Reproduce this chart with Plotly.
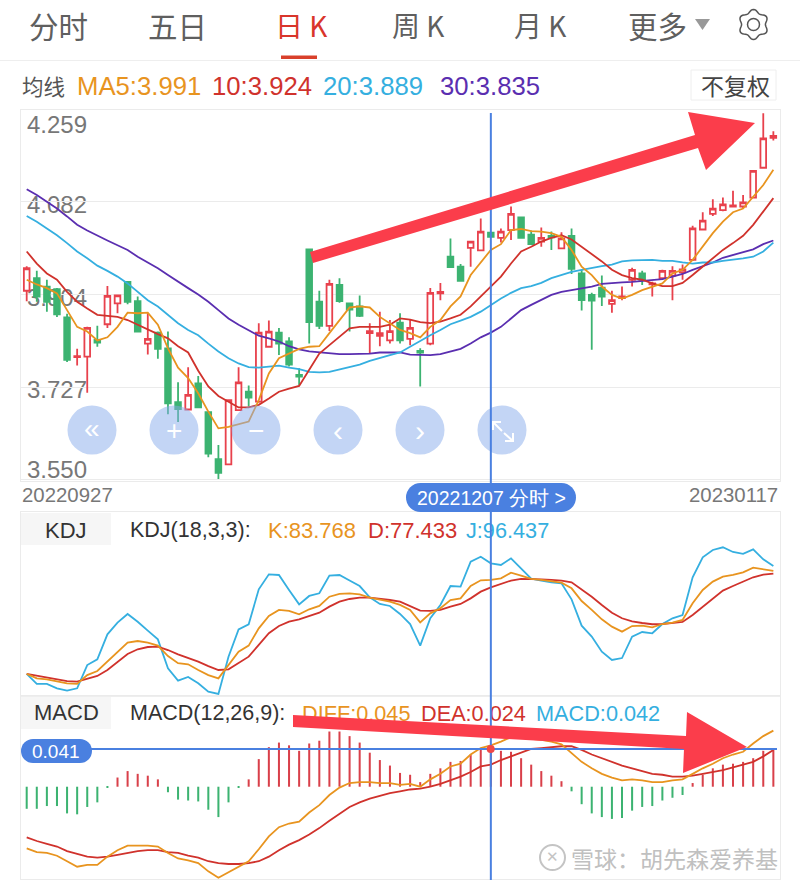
import math
import plotly.graph_objects as go

# ---------- data ----------
open_ = [3.911,3.935,3.919,3.914,3.860,3.784,3.785,3.817,3.847,3.887,3.928,3.891,3.810,3.831,3.801,3.698,3.684,3.734,3.679,3.589,3.579,3.683,3.718,3.699,3.804,3.831,3.814,3.750,3.990,3.890,3.844,3.922,3.887,3.881,3.830,3.825,3.816,3.850,3.819,3.796,3.810,3.906,3.976,3.957,3.993,3.988,4.022,4.012,4.027,4.051,4.018,4.005,4.016,3.992,4.016,3.944,3.903,3.917,3.886,3.897,3.932,3.944,3.923,3.935,3.940,3.946,3.970,4.028,4.058,4.065,4.072,4.072,4.089,4.146,4.203]
close = [3.954,3.900,3.890,3.866,3.779,3.786,3.840,3.812,3.901,3.902,3.890,3.833,3.819,3.800,3.696,3.685,3.712,3.688,3.600,3.563,3.702,3.736,3.707,3.831,3.833,3.810,3.770,3.747,3.851,3.844,3.924,3.891,3.875,3.863,3.834,3.830,3.834,3.816,3.840,3.793,3.907,3.909,3.956,3.930,4.005,4.024,4.014,4.024,4.058,4.012,4.000,4.012,4.013,4.011,3.953,3.893,3.892,3.900,3.893,3.900,3.951,3.932,3.925,3.949,3.949,3.952,4.030,4.045,4.068,4.076,4.074,4.080,4.140,4.202,4.207]
high = [3.958,3.949,3.932,3.916,3.867,3.800,3.842,3.844,3.920,3.903,3.928,3.900,3.868,3.833,3.833,3.736,3.765,3.748,3.679,3.616,3.702,3.765,3.730,3.849,3.854,3.840,3.822,3.763,3.990,3.911,3.932,3.935,3.887,3.902,3.849,3.871,3.855,3.868,3.855,3.801,3.916,3.926,4.011,3.962,4.006,4.049,4.022,4.030,4.072,4.051,4.026,4.032,4.024,4.023,4.030,3.951,3.907,3.940,3.911,3.919,3.955,3.949,3.928,3.951,3.958,3.961,4.035,4.061,4.086,4.089,4.102,4.094,4.140,4.250,4.216]
low = [3.891,3.890,3.871,3.861,3.775,3.768,3.716,3.804,3.840,3.868,3.885,3.833,3.789,3.781,3.675,3.660,3.683,3.688,3.593,3.551,3.578,3.681,3.690,3.697,3.803,3.788,3.766,3.730,3.810,3.838,3.834,3.888,3.833,3.861,3.791,3.805,3.810,3.810,3.807,3.728,3.807,3.893,3.956,3.930,3.957,3.987,4.014,4.003,4.008,4.012,4.000,3.995,3.989,3.992,3.943,3.873,3.798,3.882,3.869,3.893,3.919,3.922,3.900,3.933,3.893,3.932,3.968,4.026,4.054,4.063,4.070,4.068,4.088,4.145,4.198]

ma5 = [3.932,3.923,3.916,3.906,3.874,3.842,3.833,3.816,3.822,3.842,3.869,3.868,3.869,3.846,3.801,3.764,3.744,3.715,3.680,3.648,3.651,3.656,3.661,3.702,3.753,3.782,3.791,3.800,3.804,3.805,3.830,3.855,3.879,3.881,3.879,3.861,3.849,3.836,3.830,3.822,3.842,3.855,3.881,3.900,3.941,3.965,3.989,4.000,4.027,4.029,4.025,4.024,4.021,4.014,3.989,3.957,3.941,3.919,3.903,3.896,3.903,3.912,3.919,3.925,3.944,3.951,3.970,3.995,4.021,4.043,4.061,4.068,4.091,4.113,4.142]
ma10 = [3.986,3.963,3.944,3.932,3.909,3.890,3.877,3.865,3.863,3.861,3.855,3.846,3.836,3.828,3.820,3.805,3.793,3.758,3.728,3.710,3.699,3.688,3.688,3.693,3.705,3.718,3.724,3.729,3.760,3.791,3.807,3.823,3.839,3.842,3.842,3.842,3.846,3.858,3.856,3.851,3.849,3.852,3.858,3.865,3.881,3.900,3.919,3.938,3.963,3.986,3.995,4.005,4.012,4.017,4.009,3.995,3.981,3.967,3.951,3.941,3.935,3.932,3.925,3.920,3.920,3.926,3.941,3.957,3.973,3.989,4.002,4.016,4.037,4.062,4.088]
ma20 = [4.054,4.043,4.030,4.017,4.002,3.986,3.973,3.959,3.949,3.938,3.925,3.909,3.893,3.881,3.865,3.849,3.836,3.826,3.810,3.795,3.782,3.772,3.765,3.764,3.766,3.768,3.764,3.761,3.756,3.755,3.756,3.761,3.766,3.770,3.777,3.783,3.788,3.793,3.804,3.816,3.826,3.836,3.847,3.854,3.861,3.871,3.884,3.896,3.907,3.916,3.920,3.926,3.935,3.941,3.947,3.951,3.955,3.958,3.961,3.967,3.969,3.970,3.970,3.968,3.968,3.965,3.963,3.965,3.965,3.968,3.970,3.973,3.976,3.986,4.003]
ma30 = [4.105,4.094,4.081,4.068,4.053,4.037,4.026,4.016,4.007,3.998,3.989,3.976,3.965,3.954,3.941,3.928,3.916,3.904,3.890,3.874,3.858,3.846,3.835,3.825,3.820,3.814,3.805,3.799,3.795,3.793,3.791,3.790,3.790,3.790,3.791,3.793,3.793,3.793,3.789,3.788,3.788,3.790,3.795,3.800,3.810,3.822,3.831,3.842,3.858,3.874,3.884,3.893,3.903,3.909,3.912,3.916,3.919,3.924,3.926,3.927,3.928,3.930,3.931,3.933,3.938,3.943,3.951,3.958,3.965,3.974,3.979,3.984,3.990,4.000,4.007]

k_line = [9.8,6.3,5.5,3.7,2.4,1.9,8.9,12.1,19.5,26.5,34.4,35.7,34.4,32.1,23.9,18.2,17.4,12.9,8.9,6.3,16.8,27.3,32.1,45.7,55.4,60.2,59.4,56.7,60.7,63.3,70.6,72.8,73.3,72.5,69.9,68.0,66.7,64.1,60.2,50.4,57.5,61.5,68.0,69.3,79.0,83.5,83.8,85.1,89.5,87.2,84.6,83.8,82.5,81.7,77.2,67.2,60.2,52.8,47.0,43.1,47.5,47.8,46.5,49.1,50.2,52.3,65.4,75.9,82.5,86.4,87.7,89.8,93.5,92.2,90.9]
d_line = [9.8,8.4,7.1,5.5,4.2,3.7,5.8,8.2,12.9,19.5,25.5,29.2,31.0,31.3,28.6,25.2,22.6,19.5,16.0,12.9,13.4,18.2,23.4,32.6,41.8,47.5,50.9,52.8,55.7,58.0,62.8,66.7,68.8,69.9,69.9,69.1,68.0,66.7,63.3,59.6,59.4,60.2,62.8,64.9,69.3,74.6,78.0,80.6,83.3,84.6,84.6,84.3,83.8,83.3,81.9,76.4,70.6,64.1,58.0,53.6,51.2,49.9,48.9,49.1,49.7,50.7,56.2,62.8,69.3,75.4,79.0,82.5,85.9,88.0,88.8]
j_line = [9.8,1.9,1.9,-1.5,-3.4,-1.5,16.8,21.3,41.0,50.2,57.0,50.9,43.9,37.0,14.2,4.5,7.4,2.4,-4.2,-6.0,23.4,44.9,48.9,76.4,88.2,87.7,75.9,64.6,71.2,73.3,87.2,87.7,83.3,79.0,70.1,64.9,63.3,57.0,49.1,32.1,53.6,64.1,79.0,78.5,98.2,102.1,96.9,95.6,100.8,92.9,84.8,83.3,81.9,81.1,68.5,47.8,39.2,27.3,20.8,22.3,39.2,42.8,41.8,49.1,53.6,56.2,85.9,101.6,107.4,109.5,105.8,104.3,107.9,100.0,94.8]

diff_line = [-.067,-.071,-.072,-.075,-.081,-.087,-.085,-.085,-.076,-.069,-.064,-.064,-.064,-.065,-.072,-.078,-.080,-.083,-.092,-.099,-.093,-.087,-.081,-.068,-.054,-.044,-.040,-.038,-.028,-.020,-.009,-.001,.004,.005,.005,.004,.004,.002,.003,0,.008,.014,.022,.025,.035,.042,.045,.049,.054,.054,.052,.051,.049,.046,.037,.027,.020,.014,.010,.007,.008,.007,.005,.005,.007,.008,.014,.020,.025,.031,.035,.038,.047,.055,.061]
dea_line = [-.055,-.059,-.062,-.065,-.070,-.073,-.076,-.077,-.076,-.074,-.072,-.070,-.069,-.069,-.071,-.072,-.075,-.077,-.081,-.083,-.084,-.084,-.083,-.081,-.076,-.069,-.063,-.058,-.052,-.045,-.037,-.029,-.022,-.017,-.013,-.010,-.007,-.005,-.003,-.002,0,.003,.007,.011,.016,.022,.024,.029,.033,.037,.041,.042,.043,.044,.044,.040,.035,.031,.027,.023,.020,.017,.014,.013,.011,.011,.012,.014,.016,.018,.021,.024,.027,.033,.040]
macd_hist = [-.024,-.024,-.021,-.021,-.029,-.030,-.022,-.017,-.001,.010,.017,.014,.012,.008,-.006,-.014,-.015,-.016,-.025,-.033,-.017,-.001,.008,.030,.043,.048,.045,.039,.047,.050,.060,.060,.055,.048,.037,.029,.023,.015,.013,.005,.014,.020,.027,.028,.035,.041,.042,.039,.038,.031,.024,.017,.012,.006,-.005,-.019,-.029,-.033,-.035,-.034,-.026,-.022,-.021,-.015,-.012,-.009,.004,.013,.020,.024,.025,.027,.031,.039,.041]

price_ticks = ["4.259", "4.082", "3.904", "3.727", "3.550"]
tabs = ["分时", "五日", "日 K", "周 K", "月 K", "更多"]
CROSS = 46
idx = list(range(len(close)))

# ---------- styles ----------
RED = "#e8414c"; GREEN = "#3cb371"
C5 = "#e8941f"; C10 = "#d0322c"; C20 = "#35afe0"; C30 = "#5a2eb0"
BLUE = "#4a80e0"; ARROW = "#fb3d4b"; GRID = "#ebebeb"; GREY = "#777777"
W, H = 800, 883
FONT = "Liberation Sans"
CJK = "Noto Sans CJK SC"

def fx(px): return px / W
def fy(py): return 1 - py / H

fig = go.Figure()
shapes = []; annos = []

def under(x, y, text, color, size, pos="middle right", font=FONT):
    fig.add_trace(go.Scatter(x=[x], y=[y + 2.5], mode="text", text=[text], textposition=pos,
                             textfont=dict(color=color, size=size, family=font),
                             xaxis="x", yaxis="y", showlegend=False, hoverinfo="skip", cliponaxis=False))

def label(x, y, text, color, size, anchor="left", font=FONT):
    off = {"left": -2, "right": 2, "center": 0}[anchor]
    annos.append(dict(x=fx(x + off), y=fy(y), xref="paper", yref="paper", text=text, showarrow=False,
                      xanchor=anchor, yanchor="middle", font=dict(color=color, size=size, family=font)))

def rect(x0, y0, x1, y1, fill, line=None, layer="below", w=1):
    shapes.append(dict(type="rect", xref="paper", yref="paper", x0=fx(x0), x1=fx(x1), y0=fy(y0), y1=fy(y1),
                       fillcolor=fill, line=dict(color=line or fill, width=w if line else 0), layer=layer))

def poly(points, fill=None, line=None, w=0, close_it=True, layer="above"):
    p = "M " + " L ".join(f"{fx(a):.5f},{fy(b):.5f}" for a, b in points) + (" Z" if close_it else "")
    shapes.append(dict(type="path", path=p, xref="paper", yref="paper",
                       fillcolor=fill or "rgba(0,0,0,0)", line=dict(color=line or "rgba(0,0,0,0)", width=w), layer=layer))

def pill(x0, y0, x1, y1, fill):
    r = (y1 - y0) / 2
    rect(x0 + r, y0, x1 - r, y1, fill, layer="above")
    for cx in (x0 + r, x1 - r):
        shapes.append(dict(type="circle", xref="paper", yref="paper", x0=fx(cx - r), x1=fx(cx + r),
                           y0=fy(y0), y1=fy(y1), fillcolor=fill, line=dict(width=0), layer="above"))

# labels that sit underneath the chart marks
for t, yy in zip(price_ticks, [124, 204, 297, 389, 469]):
    under(27, yy, t, GREY, 24)
under(302, 713, "DIFF:0.045", C5, 21.7)
under(421, 713, "DEA:0.024", C10, 21.7)
under(536, 713, "MACD:0.042", C20, 21.7)
under(466, 530, "J:96.437", C20, 21.7)

# main panel
fig.add_trace(go.Candlestick(x=idx, open=open_, high=high, low=low, close=close, xaxis="x2", yaxis="y2",
                             increasing=dict(line=dict(color=RED, width=1.8), fillcolor="white"),
                             decreasing=dict(line=dict(color=GREEN, width=1.8), fillcolor=GREEN),
                             whiskerwidth=0, showlegend=False, hoverinfo="skip"))
for s, c in ((ma30, C30), (ma20, C20), (ma10, C10), (ma5, C5)):
    fig.add_trace(go.Scatter(x=idx, y=s, mode="lines", line=dict(color=c, width=1.8), xaxis="x2", yaxis="y2",
                             showlegend=False, hoverinfo="skip"))
# KDJ panel
for s, c in ((j_line, C20), (d_line, C10), (k_line, C5)):
    fig.add_trace(go.Scatter(x=idx, y=s, mode="lines", line=dict(color=c, width=1.8), xaxis="x3", yaxis="y3",
                             showlegend=False, hoverinfo="skip", cliponaxis=False))
# MACD panel
fig.add_trace(go.Bar(x=idx, y=macd_hist, width=0.2, marker=dict(color=[("#d9404a" if v > 0 else GREEN) for v in macd_hist], line=dict(width=0)),
                     xaxis="x4", yaxis="y4", showlegend=False, hoverinfo="skip"))
for s, c in ((dea_line, C10), (diff_line, C5)):
    fig.add_trace(go.Scatter(x=idx, y=s, mode="lines", line=dict(color=c, width=1.8), xaxis="x4", yaxis="y4",
                             showlegend=False, hoverinfo="skip"))

# header
TAB = "#5f5f5f"
label(29, 25, tabs[0], TAB, 29.5, font=CJK)
label(148, 25, tabs[1], TAB, 29.5, font=CJK)
label(275, 25, tabs[2], "#d9352b", 28, font=CJK)
label(392, 25, tabs[3], TAB, 28, font=CJK)
label(514, 25, tabs[4], TAB, 28, font=CJK)
label(628, 25, tabs[5], TAB, 29.5, font=CJK)
poly([(695, 19), (710, 19), (702.5, 30)], fill="#999999")
rect(281, 55.5, 317, 59, "#d9402b")
rect(0, 60, 800, 61, "#eeeeee")
gear = []
for n in range(73):
    a = 2 * math.pi * n / 72 - math.pi / 2
    r = 13.5 + 1.6 * math.cos(6 * a + math.pi)
    gear.append((753.5 + r * math.cos(a), 24.5 + r * math.sin(a)))
poly(gear, line="#555555", w=1.5)
shapes.append(dict(type="circle", xref="paper", yref="paper", x0=fx(747.5), x1=fx(759.5), y0=fy(30.5), y1=fy(18.5),
                   line=dict(color="#555555", width=1.5)))

label(22, 86, "均线", "#555555", 21.5, font=CJK)
label(77, 86, "MA5:3.991", C5, 25.7)
label(212, 86, "10:3.924", C10, 25.7)
label(323, 86, "20:3.889", C20, 25.7)
label(440, 86, "30:3.835", C30, 25.7)
rect(691, 70, 776, 100, "white", line="#eeeeee")
label(735, 85, "不复权", "#444444", 23, anchor="center", font=CJK)

# date labels
label(22, 495, "20220927", GREY, 20.4)
label(778, 495, "20230117", GREY, 20.4, anchor="right")

# panel tabs
rect(21, 513, 111, 545, "#f6f6f6")
rect(21, 697, 111, 729, "#f6f6f6")
label(66, 530, "KDJ", "#333333", 22, anchor="center")
label(66, 712, "MACD", "#333333", 22, anchor="center")
label(130, 530, "KDJ(18,3,3):", "#333333", 21.5)
label(268, 530, "K:83.768", C5, 22)
label(368, 530, "D:77.433", C10, 22)
label(130, 713, "MACD(12,26,9):", "#333333", 21.5)
rect(21, 695, 780, 697, "#eeeeee")

# round buttons
for cx in (92, 174, 256, 338, 420, 502):
    shapes.append(dict(type="circle", xref="paper", yref="paper", x0=fx(cx - 24.5), x1=fx(cx + 24.5),
                       y0=fy(454.5), y1=fy(405.5), fillcolor="rgba(135,172,235,0.5)", line=dict(width=0), layer="above"))
label(92, 428, "«", "white", 28, anchor="center")
label(174, 430, "+", "white", 28, anchor="center")
label(256, 430, "−", "white", 28, anchor="center")
label(338, 430, "‹", "white", 30, anchor="center")
label(420, 430, "›", "white", 30, anchor="center")
poly([(493, 422), (502, 431)], line="white", w=2, close_it=False)
poly([(504, 433), (513, 441)], line="white", w=2, close_it=False)
poly([(493, 430), (493, 422), (501, 422)], line="white", w=2, close_it=False)
poly([(505, 441), (513, 441), (513, 433)], line="white", w=2, close_it=False)

# crosshair
shapes.append(dict(type="line", xref="x2", yref="paper", x0=CROSS, x1=CROSS, y0=fy(113), y1=fy(880),
                   line=dict(color=BLUE, width=2), layer="above"))
poly([(90, 749), (777, 749)], line=BLUE, w=2, close_it=False)
pill(21, 739, 92, 763, BLUE)
label(56.5, 751, "0.041", "white", 19, anchor="center")
pill(406, 483, 576, 512, BLUE)
label(491, 498, "20221207 分时 >", "white", 19.5, anchor="center")
shapes.append(dict(type="circle", xref="paper", yref="paper", x0=fx(486.7), x1=fx(494.7), y0=fy(753), y1=fy(745),
                   fillcolor="#f04848", line=dict(width=0), layer="above"))

# red arrows
poly([(310, 252), (695, 135), (688, 112), (755, 123), (706, 170), (698, 148), (313, 263)], fill=ARROW)
poly([(293, 715), (686, 736), (687, 712), (747, 747), (683, 773), (684, 749), (293, 727)], fill=ARROW)

# watermark
shapes.append(dict(type="circle", xref="paper", yref="paper", x0=fx(540), x1=fx(565), y0=fy(870), y1=fy(845),
                   line=dict(color="#c4c4c4", width=2), layer="above"))
label(552.5, 857, "✕", "#c4c4c4", 15, anchor="center", font="DejaVu Sans")
label(571, 858, "雪球：胡先森爱养基", "#c0c0c0", 23, font=CJK)

axis_off = dict(showgrid=False, zeroline=False, showticklabels=False, ticks="", fixedrange=True)
boxed = dict(showline=True, mirror=True, linecolor=GRID, linewidth=1)

# x range follows the narrowed domain so one candle step is the same on all panels
xr = [(21 - 26.7) / 10.09, (780 - 26.7) / 10.09]
xboxed = dict(range=xr, domain=[fx(21), fx(780)], **axis_off, **boxed)
fig.update_layout(
    width=W, height=H, autosize=False, margin=dict(l=0, r=0, t=0, b=0),
    paper_bgcolor="white", plot_bgcolor="rgba(0,0,0,0)", showlegend=False,
    barmode="overlay", boxgap=0.2, shapes=shapes, annotations=annos,
    xaxis=dict(range=[0, W], domain=[0, 1], visible=False, fixedrange=True),
    yaxis=dict(range=[H, 0], domain=[0, 1], visible=False, fixedrange=True),
    xaxis2=dict(anchor="y2", rangeslider=dict(visible=False), **xboxed),
    yaxis2=dict(anchor="x2", domain=[fy(481), fy(110)], range=[3.5474, 4.2564], showgrid=True, gridcolor=GRID,
                gridwidth=1, zeroline=False, tickvals=[float(t) for t in price_ticks], showticklabels=False, ticks="",
                fixedrange=True, **boxed),
    xaxis3=dict(anchor="y3", **xboxed),
    yaxis3=dict(anchor="x3", domain=[fy(695), fy(512)], range=[-6.8, 137.3], **axis_off, **boxed),
    xaxis4=dict(anchor="y4", **xboxed),
    yaxis4=dict(anchor="x4", domain=[fy(879), fy(696)], range=[-0.1003, 0.0986], **axis_off, **boxed),
)
fig.write_html("out.html", config=dict(displayModeBar=False), post_script="document.body.style.margin='0';")
